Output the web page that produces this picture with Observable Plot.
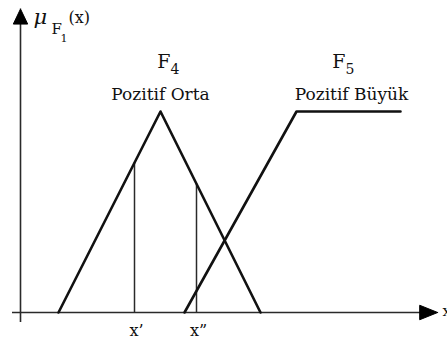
<!DOCTYPE html>
<html><head><meta charset="utf-8">
<script src="https://cdn.jsdelivr.net/npm/d3@7"></script>
<script src="https://cdn.jsdelivr.net/npm/@observablehq/plot@0.6"></script>
<style>body{margin:0;background:#fff} svg{display:block}</style>
</head><body><div id="chart"></div>
<script>
// Membership functions (x in arbitrary units, mu in [0,1])
const f4X = [0.95, 3.5, 6];
const f4Mu = [0, 1, 0];
const f5X = [4.1, 6.9, 9.5];
const f5Mu = [0, 1, 1];
// Sample points x', x''
const sampleX = [2.85, 4.4];
const sampleLabels = ["x’", "x”"];
// Axis extents (tip of each arrow)
const xAxisExtent = [-0.2, 10.43];
const yAxisExtent = [-0.05, 1.51];
// Arrowhead size, in data units (length along axis, half width across)
const xArrowSize = [0.45, 0.036];
const yArrowSize = [0.075, 0.18];
// Set names
const setNames = ["F", "F"];
const setSubs = ["4", "5"];
const setDescs = ["Pozitif Orta", "Pozitif Büyük"];
const setNameX = [3.75, 8.125];
const setDescX = [3.5, 8.275];

const f4 = f4X.map((x, i) => ({x, mu: f4Mu[i]}));
const f5 = f5X.map((x, i) => ({x, mu: f5Mu[i]}));
const interp = (xs, ys, x) => {
  for (let i = 0; i < xs.length - 1; i++) {
    if (x >= xs[i] && x <= xs[i + 1]) return ys[i] + (ys[i + 1] - ys[i]) * (x - xs[i]) / (xs[i + 1] - xs[i]);
  }
  return 0;
};
const samples = sampleX.map((x, i) => ({x, mu: interp(f4X, f4Mu, x), label: sampleLabels[i]}));
const sets = setNames.map((n, i) => ({n, sub: setSubs[i], desc: setDescs[i], nx: setNameX[i], dx: setDescX[i]}));

// arrowhead polygons derived from axis tips and sizes
const xTip = xAxisExtent[1], yTip = yAxisExtent[1];
const xHead = [
  {x: xTip, mu: 0},
  {x: xTip - xArrowSize[0], mu: xArrowSize[1]},
  {x: xTip - xArrowSize[0], mu: -xArrowSize[1]},
  {x: xTip, mu: 0}
];
const yHead = [
  {x: 0, mu: yTip},
  {x: yArrowSize[1], mu: yTip - yArrowSize[0]},
  {x: -yArrowSize[1], mu: yTip - yArrowSize[0]},
  {x: 0, mu: yTip}
];

const serif = "DejaVu Serif";
const axisColor = "#2a2a2a";

const chart = Plot.plot({
  width: 447, height: 340, margin: 0,
  x: {domain: [0, 10], range: [20, 420], axis: null},
  y: {domain: [0, 1], range: [312, 111], axis: null},
  style: {background: "#fff", fontFamily: serif},
  marks: [
    Plot.ruleY([0], {x1: xAxisExtent[0], x2: xTip - xArrowSize[0] + 0.05, stroke: axisColor, strokeWidth: 1.6}),
    Plot.ruleX([0], {y1: yAxisExtent[0], y2: yTip - yArrowSize[0] + 0.01, stroke: axisColor, strokeWidth: 1.6}),
    Plot.line(xHead, {x: "x", y: "mu", fill: "#000", stroke: "#000", strokeWidth: 1}),
    Plot.line(yHead, {x: "x", y: "mu", fill: "#000", stroke: "#000", strokeWidth: 1}),
    Plot.ruleX(samples, {x: "x", y1: 0, y2: "mu", stroke: axisColor, strokeWidth: 1.5}),
    Plot.line(f4, {x: "x", y: "mu", stroke: "#111", strokeWidth: 2.6}),
    Plot.line(f5, {x: "x", y: "mu", stroke: "#111", strokeWidth: 2.6}),
    // sample labels
    Plot.text(samples, {x: "x", y: -0.115, text: "label", lineAnchor: "bottom", fontSize: 16, dx: 2, fill: "#111"}),
    // set labels
    Plot.text(sets, {x: "nx", y: 1.214, text: "n", textAnchor: "end", lineAnchor: "bottom", fontSize: 19, fill: "#111"}),
    Plot.text(sets, {x: "nx", y: 1.189, text: "sub", textAnchor: "start", lineAnchor: "bottom", fontSize: 14, fill: "#111"}),
    Plot.text(sets, {x: "dx", y: 1.055, text: "desc", lineAnchor: "bottom", fontSize: 17, fill: "#111"}),
    // y-axis label mu_F1(x)
    Plot.text(["μ"], {x: 0.325, y: 1.433, text: d => d, textAnchor: "start", lineAnchor: "bottom", fontSize: 21, fontStyle: "italic", fill: "#111"}),
    Plot.text(["F"], {x: 0.775, y: 1.388, text: d => d, textAnchor: "start", lineAnchor: "bottom", fontSize: 15, fill: "#111"}),
    Plot.text(["1"], {x: 1.0, y: 1.348, text: d => d, textAnchor: "start", lineAnchor: "bottom", fontSize: 11, fill: "#111"}),
    Plot.text(["(x)"], {x: 1.2, y: 1.44, text: d => d, textAnchor: "start", lineAnchor: "bottom", fontSize: 16, fill: "#111"}),
    // x-axis label (cut off at the right edge, as in the reference)
    Plot.text(["x"], {x: 10.55, y: -0.015, text: d => d, textAnchor: "start", lineAnchor: "bottom", fontSize: 15, fill: "#111"})
  ]
});
document.getElementById("chart").appendChild(chart);
</script>
</body></html>
